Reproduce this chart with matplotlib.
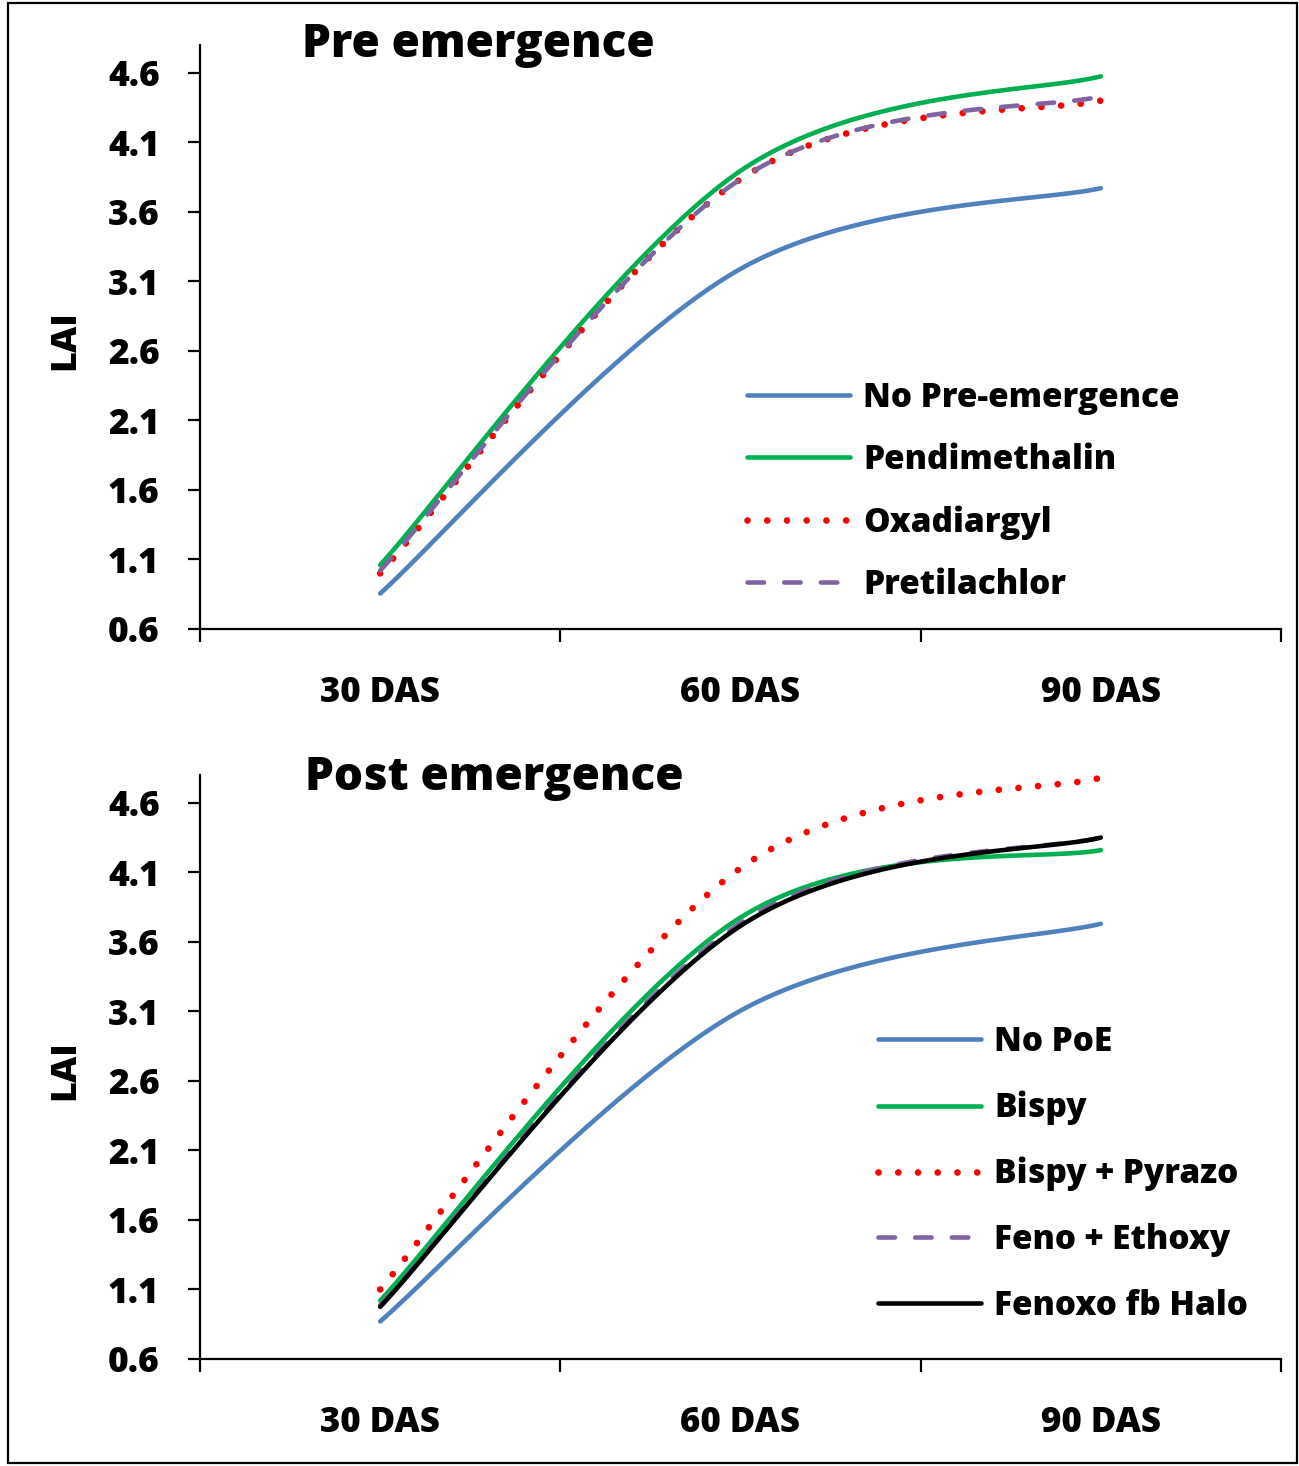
import numpy as np
import matplotlib
matplotlib.use("Agg")
import matplotlib.pyplot as plt
from matplotlib.patches import Rectangle
from matplotlib.lines import Line2D

plt.rcParams['font.family'] = ['Open Sans', 'DejaVu Sans']
plt.rcParams['font.weight'] = 'bold'

categories = ["30 DAS", "60 DAS", "90 DAS"]
y_ticks = [0.6, 1.1, 1.6, 2.1, 2.6, 3.1, 3.6, 4.1, 4.6]

pre_labels = ["No Pre-emergence", "Pendimethalin", "Oxadiargyl", "Pretilachlor"]
pre_no = [0.855, 3.19, 3.77]
pre_pendi = [1.06, 3.895, 4.575]
pre_oxa = [1.00, 3.835, 4.40]
pre_preti = [1.02, 3.835, 4.43]

post_labels = ["No PoE", "Bispy", "Bispy + Pyrazo", "Feno + Ethoxy", "Fenoxo fb Halo"]
post_no = [0.87, 3.105, 3.73]
post_bispy = [1.02, 3.775, 4.26]
post_bispy_pyr = [1.10, 4.13, 4.78]
post_feno_eth = [0.985, 3.735, 4.35]
post_fenoxo = [0.975, 3.715, 4.35]

BLUE = "#4F81BD"
GREEN = "#00B050"
RED = "#FF0000"
PURPLE = "#8064A2"
BLACK = "#000000"

STY = {
    "solid": dict(linestyle="-", solid_capstyle="round", linewidth=3.3),
    "dot": dict(linestyle=(0, (0.01, 2.95)), dash_capstyle="round", linewidth=4.8),
    "dash": dict(linestyle=(0, (3.6, 4.4)), dash_capstyle="round", linewidth=3.3),
}


def excel_smooth(xs, ys, n=60):
    pts = np.column_stack([xs, ys]).astype(float)
    m = len(pts)
    out = []
    t = np.linspace(0, 1, n)[:, None]
    for i in range(m - 1):
        p0 = pts[i - 1] if i > 0 else pts[i]
        p1 = pts[i]
        p2 = pts[i + 1]
        p3 = pts[i + 2] if i + 2 < m else pts[i + 1]
        c1 = p1 + (p2 - p0) / 6.0
        c2 = p2 - (p3 - p1) / 6.0
        seg = ((1 - t) ** 3) * p1 + 3 * ((1 - t) ** 2) * t * c1 + 3 * (1 - t) * t ** 2 * c2 + t ** 3 * p2
        out.append(seg if i == 0 else seg[1:])
    arr = np.vstack(out)
    return arr[:, 0], arr[:, 1]


fig = plt.figure(figsize=(12.99, 14.66), dpi=100)
W, H = 1299.0, 1466.0

fig.patches.append(Rectangle((8 / W, 3 / H), (1297 - 8) / W, (1463 - 3) / H,
                             transform=fig.transFigure, fill=False,
                             edgecolor="black", linewidth=1.6, zorder=0))

xpos = np.arange(len(categories)) + 0.5
WEIGHT = 800


def make_axes(top_px, bottom_px):
    ax = fig.add_axes([200 / W, 1 - bottom_px / H, (1281 - 200) / W, (bottom_px - top_px) / H])
    ax.set_xlim(0, 3)
    ax.set_ylim(0.6, 4.8)
    for s in ["top", "right"]:
        ax.spines[s].set_visible(False)
    for s in ["left", "bottom"]:
        ax.spines[s].set_linewidth(1.6)
    ax.set_yticks(y_ticks)
    ax.set_yticklabels([f"{v:.1f}" for v in y_ticks], fontweight=WEIGHT)
    ax.set_xticks([0, 1, 2, 3])
    ax.set_xticklabels([])
    ax.set_xticks(xpos, minor=True)
    ax.set_xticklabels(categories, minor=True, fontweight=WEIGHT)
    ax.tick_params(axis="y", direction="out", length=9, width=1.6, labelsize=25.5, pad=20)
    ax.tick_params(axis="x", which="major", direction="out", length=9, width=1.6)
    ax.tick_params(axis="x", which="minor", length=0, labelsize=25, pad=33)
    return ax


def draw(ax, series, colors, styles):
    handles = []
    for ys, c, st in zip(series, colors, styles):
        sx, sy = excel_smooth(xpos, ys)
        ax.plot(sx, sy, color=c, **STY[st])
        handles.append(Line2D([], [], color=c, **STY[st]))
    return handles


ax1 = make_axes(45, 629)
h1 = draw(ax1, [pre_no, pre_pendi, pre_oxa, pre_preti],
          [BLUE, GREEN, RED, PURPLE], ["solid", "solid", "dot", "dash"])
ax1.legend(h1, pre_labels, loc="upper left", bbox_to_anchor=(747 / W, 1 - 381 / H),
           bbox_transform=fig.transFigure, frameon=False,
           prop=dict(size=24, weight=WEIGHT),
           handlelength=3.1, handletextpad=0.38, labelspacing=0.84, borderpad=0,
           borderaxespad=0)

ax2 = make_axes(775, 1359)
h2 = draw(ax2, [post_no, post_bispy, post_bispy_pyr, post_feno_eth, post_fenoxo],
          [BLUE, GREEN, RED, PURPLE, BLACK], ["solid", "solid", "dot", "dash", "solid"])
ax2.legend(h2, post_labels, loc="upper left", bbox_to_anchor=(878 / W, 1 - 1025 / H),
           bbox_transform=fig.transFigure, frameon=False,
           prop=dict(size=24, weight=WEIGHT),
           handlelength=3.1, handletextpad=0.38, labelspacing=0.95, borderpad=0,
           borderaxespad=0)

fig.text(302 / W, 1 - 45 / H, "Pre emergence", fontsize=33, fontweight=WEIGHT, ha="left", va="center")
fig.text(305 / W, 1 - 778 / H, "Post emergence", fontsize=33, fontweight=WEIGHT, ha="left", va="center")
fig.text(65 / W, 1 - 340 / H, "LAI", fontsize=26, fontweight=WEIGHT, rotation=90, ha="center", va="center")
fig.text(65 / W, 1 - 1070 / H, "LAI", fontsize=26, fontweight=WEIGHT, rotation=90, ha="center", va="center")

fig.savefig("out.png", dpi=100)
